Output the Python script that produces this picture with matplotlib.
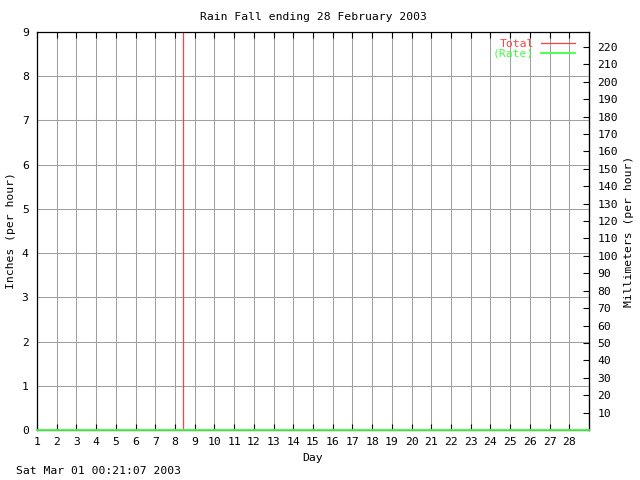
import matplotlib
matplotlib.use("Agg")
import matplotlib.pyplot as plt

# data
rate_days = list(range(1, 30))
rate_in = [0] * len(rate_days)
total_days = [8.42, 8.42]
total_in = [0, 10]
x_ticks = list(range(1, 29))
y_ticks = list(range(0, 10))
mm_ticks = list(range(10, 230, 10))

font = "DejaVu Sans Mono"
fs = 8.2
red = "#ff4040"
green = "#40ff40"

fig = plt.figure(figsize=(6.4, 4.8), dpi=100)
ax = fig.add_axes([37 / 640, 50 / 480, 552 / 640, 398 / 480])

ax2 = ax.twinx()
ax2.set_ylim(0, 9 * 25.4)
ax2.set_yticks(mm_ticks)
ax2.tick_params(axis="y", direction="in", length=4, width=0.8, pad=6)
for lbl in ax2.get_yticklabels():
    lbl.set_fontfamily(font)
    lbl.set_fontsize(fs)
for side in ["top", "bottom", "left"]:
    ax2.spines[side].set_visible(False)
ax2.set_ylabel("Millimeters (per hour)", family=font, fontsize=fs)
ax2.yaxis.set_label_coords((624 - 37) / 552, 0.5)

ax.set_zorder(ax2.get_zorder() + 1)
ax.patch.set_visible(False)

ax.plot(total_days, total_in, color=red, lw=0.9, label="Total")
ax.plot(rate_days, rate_in, color=green, lw=1.3, label="(Rate)", clip_on=False, zorder=5)

ax.set_xlim(1, 29)
ax.set_ylim(0, 9)
ax.set_xticks(x_ticks)
ax.set_yticks(y_ticks)
ax.grid(True, color="#a0a0a0", lw=0.75)
ax.set_axisbelow(True)
ax.tick_params(axis="x", direction="in", top=True, length=4, width=0.8, pad=5)
ax.tick_params(axis="y", direction="in", length=0, pad=6)
for lbl in ax.get_xticklabels() + ax.get_yticklabels():
    lbl.set_fontfamily(font)
    lbl.set_fontsize(fs)
for s in ax.spines.values():
    s.set_linewidth(0.9)

ax.set_title("Rain Fall ending 28 February 2003", family=font, fontsize=fs, pad=9)
ax.set_xlabel("Day", family=font, fontsize=fs, labelpad=4.5)
ax.set_ylabel("Inches (per hour)", family=font, fontsize=fs)
ax.yaxis.set_label_coords((16 - 37) / 552, 0.5)

leg = ax.legend(loc="upper right", frameon=False, prop={"family": font, "size": fs},
                markerfirst=False, handlelength=3.0, borderaxespad=0.3,
                labelspacing=0.0, handletextpad=0.6,
                bbox_to_anchor=(1 - 6 / 552, 1 + 1 / 398))
for t, c in zip(leg.get_texts(), [red, green]):
    t.set_color(c)

fig.text(16 / 640, 1 - 471 / 480, "Sat Mar 01 00:21:07 2003", family=font,
         fontsize=fs, va="center", ha="left")

fig.savefig("out.png", dpi=100)
